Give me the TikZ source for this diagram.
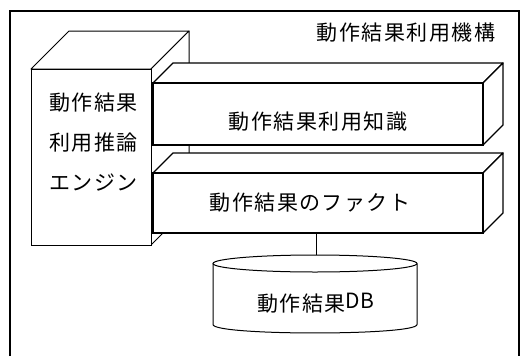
\documentclass[tikz,border=0pt]{standalone}
\usepackage{fontspec}
\newfontfamily\jp[LetterSpace=7]{Noto Sans CJK JP}
\newfontfamily\jplat{Noto Sans CJK JP}
\begin{document}
\begin{tikzpicture}[x=1pt,y=-1pt,
  frame/.style={line width=2pt},
  face/.style={draw, fill=white, line width=1.3pt, line join=round},
  eface/.style={draw, fill=white, line width=1pt, line join=round},
  front/.style={draw, fill=white, line width=1.3pt, inner sep=0pt, outer sep=0pt, anchor=north west},
  lbl/.style={font=\jp\fontsize{21}{40}\selectfont, inner sep=0pt},
  conn/.style={line width=1pt},
  dbline/.style={line width=1pt}]
\useasboundingbox (0,0) rectangle (521,356);
% outer frame (open at bottom)
\draw[frame] (10,356) -- (10,11) -- (519,11) -- (519,356);
% engine cuboid
\path[eface] (31,69) -- (69,31) -- (189,31) -- (151,69) -- cycle;
\path[eface] (151,69) -- (189,31) -- (189,207) -- (151,245) -- cycle;
\node[front, line width=1pt, minimum width=120pt, minimum height=176pt] (engine) at (31,69) {};
% knowledge cuboid
\path[face] (153,83) -- (173,63) -- (503,63) -- (483,83) -- cycle;
\path[face] (483,83) -- (503,63) -- (503,125) -- (483,145) -- cycle;
\node[front, minimum width=330pt, minimum height=62pt] (know) at (153,83) {};
% fact cuboid
\path[face] (153,173) -- (173,153) -- (503,153) -- (483,173) -- cycle;
\path[face] (483,173) -- (503,153) -- (503,213) -- (483,233) -- cycle;
\node[front, minimum width=330pt, minimum height=60pt] (fact) at (153,173) {};
% database cylinder
\draw[dbline] (213,263.5) -- (213,324.5) .. controls (213,335.8) and (417,335.8) .. (417,324.5) -- (417,263.5);
\draw[dbline] (315,263.5) ellipse [x radius=102, y radius=8.5];
\coordinate (dbtop) at (316,255);
\node[lbl] (db) at (315.5,303) {動作結果\raisebox{3pt}{\jplat DB}};
% connector
\draw[conn] (dbtop |- fact.south) -- (dbtop);
% labels
\node[lbl] (title) at (406,33) {動作結果利用機構};
\node[lbl, align=left, anchor=west] (englabel) at (49,142.5) {動作結果\\利用推論\\エンジン};
\node[lbl] (knowlabel) at (318,122) {動作結果利用知識};
\node[lbl] (factlabel) at (310,203) {動作結果のファクト};
\end{tikzpicture}
\end{document}
